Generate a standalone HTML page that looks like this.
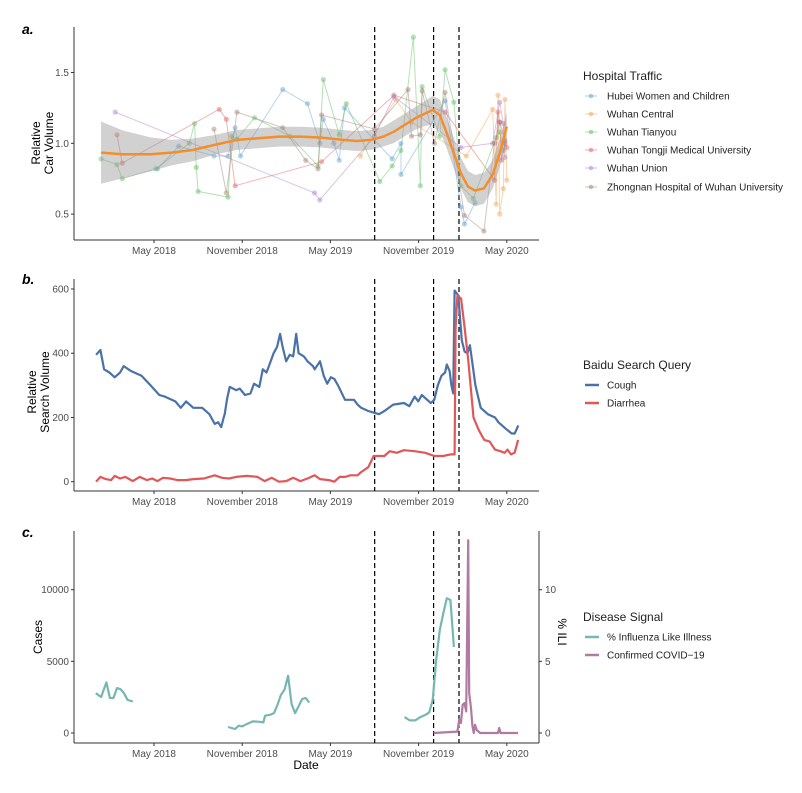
<!DOCTYPE html>
<html><head><meta charset="utf-8"><style>
body{margin:0;background:#fff;}
svg text{font-family:"Liberation Sans",sans-serif;}
</style></head><body>
<svg id="fig" width="802" height="788" xmlns="http://www.w3.org/2000/svg"></svg>
<script>
// ---------- shared ----------
const xTicks=[2018.33,2018.83,2019.33,2019.83,2020.33];
const xTickLabels=["May 2018","November 2018","May 2019","November 2019","May 2020"];
const eventDates=[2019.581,2019.915,2020.059];

// ---------- panel a data ----------
const smoothT=[2018.03,2018.15,2018.31,2018.43,2018.55,2018.67,2018.80,2018.92,2019.04,2019.16,2019.28,2019.40,2019.48,2019.56,2019.63,2019.69,2019.75,2019.81,2019.87,2019.91,2019.95,2019.99,2020.03,2020.07,2020.11,2020.15,2020.20,2020.25,2020.29,2020.33];
const smoothV=[0.934,0.922,0.922,0.934,0.953,0.988,1.024,1.035,1.047,1.047,1.040,1.024,1.016,1.024,1.047,1.082,1.129,1.176,1.212,1.235,1.2,1.071,0.929,0.788,0.694,0.666,0.682,0.78,0.93,1.118];
const smoothSE=[0.22,0.17,0.12,0.09,0.08,0.07,0.07,0.07,0.07,0.07,0.07,0.07,0.07,0.07,0.07,0.08,0.08,0.08,0.09,0.1,0.11,0.11,0.11,0.11,0.11,0.11,0.11,0.1,0.1,0.1];
const hospNames=["Hubei Women and Children","Wuhan Central","Wuhan Tianyou","Wuhan Tongji Medical University","Wuhan Union","Zhongnan Hospital of Wuhan University"];
const hospColors=["#5b9fd4","#f5a04a","#5dbb5d","#e05a5a","#a77fcf","#a57c6e"];
const hubeiT=[2018.35,2018.47,2018.67,2018.75,2018.79,2018.82,2019.06,2019.20,2019.27,2019.29,2019.35,2019.38,2019.41,2019.68,2019.73,2019.73,2019.98,2020.07,2020.09,2020.15];
const hubeiV=[0.82,0.98,0.91,0.91,1.11,0.91,1.38,1.28,1.0,1.17,1.0,0.88,1.25,0.89,1.0,0.78,1.3,0.55,0.43,0.58];
const centralT=[2019.50,2019.70,2019.79,2020.10,2020.25,2020.27,2020.28,2020.29,2020.31,2020.32,2020.33];
const centralV=[0.91,1.31,1.15,0.91,1.24,0.57,1.34,0.5,0.68,1.31,0.74];
const tianyouT=[2018.03,2018.12,2018.15,2018.34,2018.53,2018.56,2018.57,2018.58,2018.75,2018.77,2018.80,2018.90,2019.10,2019.26,2019.29,2019.38,2019.42,2019.61,2019.68,2019.73,2019.80,2019.84,2019.85,2019.95,2019.98,2020.03,2020.07,2020.14,2020.27,2020.29,2020.31];
const tianyouV=[0.89,0.85,0.75,0.82,1.0,1.14,0.83,0.66,0.62,1.05,1.03,1.18,1.05,0.84,1.45,1.06,1.28,0.73,0.84,0.95,1.75,0.7,1.4,1.05,1.52,1.29,0.7,0.61,1.04,1.08,0.95];
const tongjiT=[2018.12,2018.15,2018.70,2018.74,2018.79,2019.28,2019.69,2019.98,2020.26,2020.28,2020.29,2020.30,2020.32,2020.33];
const tongjiV=[1.06,0.86,1.24,1.17,0.7,0.87,1.34,1.22,0.74,1.22,1.15,0.88,1.0,0.97];
const unionT=[2018.11,2019.24,2019.27,2019.58,2019.69,2020.07,2020.25,2020.29,2020.31,2020.32];
const unionV=[1.22,0.65,0.6,1.05,1.33,0.97,1.0,1.29,1.14,0.9];
const zhongnanT=[2018.67,2018.74,2018.80,2019.06,2019.19,2019.26,2019.28,2019.58,2019.77,2019.79,2019.84,2019.85,2019.92,2019.98,2020.09,2020.20,2020.26,2020.29,2020.32];
const zhongnanV=[1.1,0.65,1.22,1.11,0.88,0.82,1.2,1.1,1.38,1.05,1.06,1.37,1.0,1.36,0.49,0.38,1.0,1.15,1.02];
const aTicks=[0.5,1.0,1.5];

// ---------- panel b data ----------
const coughT=[2018.002,2018.026,2018.047,2018.077,2018.107,2018.138,2018.158,2018.198,2018.259,2018.310,2018.360,2018.391,2018.451,2018.482,2018.512,2018.553,2018.603,2018.644,2018.674,2018.694,2018.711,2018.725,2018.731,2018.745,2018.759,2018.796,2018.816,2018.846,2018.877,2018.897,2018.927,2018.947,2018.968,2018.988,2019.008,2019.028,2019.045,2019.059,2019.079,2019.099,2019.119,2019.136,2019.150,2019.180,2019.200,2019.231,2019.241,2019.271,2019.292,2019.312,2019.332,2019.352,2019.373,2019.413,2019.464,2019.484,2019.504,2019.545,2019.575,2019.605,2019.636,2019.686,2019.747,2019.777,2019.808,2019.828,2019.848,2019.879,2019.899,2019.919,2019.939,2019.960,2019.980,2019.990,2020.006,2020.016,2020.026,2020.034,2020.055,2020.075,2020.091,2020.107,2020.121,2020.132,2020.152,2020.182,2020.223,2020.263,2020.283,2020.324,2020.358,2020.375,2020.395];
const coughV=[395,410,350,340,325,340,360,345,330,300,270,265,250,230,250,230,230,210,180,185,170,200,210,260,295,285,290,270,275,305,295,350,340,370,400,420,460,420,375,395,390,460,400,390,375,360,350,375,330,305,325,320,300,255,255,240,230,220,215,210,220,240,245,235,265,250,270,255,245,255,300,330,340,365,345,300,275,595,580,440,405,400,425,380,300,230,210,200,185,165,150,150,175];
const diarT=[2018.002,2018.026,2018.057,2018.087,2018.107,2018.138,2018.168,2018.209,2018.249,2018.290,2018.320,2018.350,2018.381,2018.421,2018.462,2018.512,2018.553,2018.613,2018.674,2018.715,2018.755,2018.796,2018.856,2018.917,2018.957,2018.998,2019.038,2019.079,2019.119,2019.160,2019.200,2019.241,2019.271,2019.322,2019.352,2019.382,2019.413,2019.443,2019.484,2019.504,2019.545,2019.575,2019.605,2019.636,2019.666,2019.706,2019.747,2019.808,2019.868,2019.919,2019.969,2020.010,2020.034,2020.040,2020.050,2020.071,2020.091,2020.111,2020.141,2020.172,2020.202,2020.233,2020.263,2020.293,2020.318,2020.334,2020.354,2020.374,2020.394];
const diarV=[0,15,8,5,18,10,15,2,15,5,10,2,12,10,5,5,8,10,20,12,10,15,18,15,2,12,0,2,12,2,10,20,8,5,0,15,15,20,20,30,45,80,80,80,95,90,98,95,90,80,80,85,85,480,580,570,480,380,200,160,130,125,100,95,90,100,85,90,130];
const bTicks=[0,200,400,600];

// ---------- panel c data ----------
const ili1T=[2018.00,2018.03,2018.06,2018.08,2018.10,2018.12,2018.14,2018.16,2018.18,2018.21];
const ili1V=[2.78,2.51,3.53,2.44,2.44,3.13,3.06,2.78,2.32,2.20];
const ili2T=[2018.75,2018.79,2018.81,2018.83,2018.86,2018.89,2018.92,2018.95,2018.96,2018.99,2019.01,2019.03,2019.05,2019.07,2019.09,2019.11,2019.13,2019.15,2019.17,2019.19,2019.21];
const ili2V=[0.42,0.28,0.51,0.46,0.65,0.81,0.79,0.74,1.21,1.28,1.39,1.97,2.67,3.02,3.99,2.02,1.39,1.86,2.37,2.44,2.13];
const ili3T=[2019.75,2019.78,2019.81,2019.84,2019.87,2019.89,2019.91,2019.93,2019.95,2019.97,2019.99,2020.01,2020.03];
const ili3V=[1.11,0.88,0.88,1.11,1.28,1.44,2.32,5.10,7.19,8.35,9.40,9.28,6.0];
const covidT=[2019.915,2020.05,2020.06,2020.07,2020.08,2020.09,2020.10,2020.111,2020.117,2020.127,2020.135,2020.143,2020.15,2020.16,2020.18,2020.28,2020.287,2020.295,2020.394];
const covidV=[0,100,928,700,1972,2088,1508,13456,2784,1740,500,0,580,200,0,0,350,0,0];
const cTicks=[0,5000,10000];
const iliTicks=[0,5,10];

// ---------- drawing ----------
const NS="http://www.w3.org/2000/svg";
const svg=document.getElementById('fig');
const X0=74,X1=539;
function xs(t){return 154+(t-2018.33)*176.4;}
function mk(tag,attrs,parent){const e=document.createElementNS(NS,tag);for(const k in attrs)e.setAttribute(k,attrs[k]);(parent||svg).appendChild(e);return e;}
function txt(s,x,y,attrs){const e=mk('text',Object.assign({x:x,y:y},attrs||{}));e.textContent=s;return e;}
function pathFrom(T,V,ys){return T.map((t,i)=>(i?'L':'M')+xs(t).toFixed(1)+','+ys(V[i]).toFixed(1)).join('');}

function frame(g,top,bottom,yticks,ys,fmt){
  let e=mk('line',{x1:X0,y1:top,x2:X0,y2:bottom,stroke:'#333','stroke-width':1},g);
  
  e=mk('line',{x1:X0,y1:bottom,x2:X1,y2:bottom,stroke:'#333','stroke-width':1},g);
  
  yticks.forEach(v=>{const y=ys(v);
    mk('line',{x1:X0-3,y1:y,x2:X0,y2:y,stroke:'#333'},g);
    const t=txt(fmt(v),X0-5,y+3.5,{'text-anchor':'end','font-size':10,fill:'#4d4d4d'});
    g.appendChild(t);});
  xTicks.forEach((tt,i)=>{const x=xs(tt);
    mk('line',{x1:x,y1:bottom,x2:x,y2:bottom+3,stroke:'#333'},g);
    const t=txt(xTickLabels[i],x,bottom+14,{'text-anchor':'middle','font-size':10,fill:'#4d4d4d'});
    g.appendChild(t);});
  eventDates.forEach(d=>{const l=mk('line',{x1:xs(d),y1:top,x2:xs(d),y2:bottom,stroke:'#000','stroke-width':1.2,'stroke-dasharray':'5,3'},g);
    });
}

// ===== Panel a =====
const ga=mk('g',{});
const ya=v=>143.3-(v-1)*141.6;
frame(ga,27,240,aTicks,ya,v=>v.toFixed(1));
const hospT=[hubeiT,centralT,tianyouT,tongjiT,unionT,zhongnanT];
const hospV=[hubeiV,centralV,tianyouV,tongjiV,unionV,zhongnanV];
hospT.forEach((T,k)=>{
  const p=mk('path',{d:pathFrom(T,hospV[k],ya),fill:'none',stroke:hospColors[k],'stroke-opacity':0.45,'stroke-width':1},ga);
  
  T.forEach((t,i)=>{const c=mk('circle',{cx:xs(t),cy:ya(hospV[k][i]),r:2.6,fill:hospColors[k],'fill-opacity':0.45},ga);
    });
});
let rib='';smoothT.forEach((t,i)=>{rib+=(i?'L':'M')+xs(t)+','+ya(smoothV[i]+smoothSE[i]);});
for(let i=smoothT.length-1;i>=0;i--)rib+='L'+xs(smoothT[i])+','+ya(smoothV[i]-smoothSE[i]);
let rb=mk('path',{d:rib+'Z',fill:'#999','fill-opacity':0.45},ga);

let sm=mk('path',{d:pathFrom(smoothT,smoothV,ya),fill:'none',stroke:'#f28e2b','stroke-width':2.5},ga);


// ===== Panel b =====
const gb=mk('g',{});
const yb=v=>481.7-v*0.3212;
frame(gb,279,491,bTicks,yb,v=>String(v));
let pc=mk('path',{d:pathFrom(coughT,coughV,yb),fill:'none',stroke:'#4a72a8','stroke-width':2.2,'stroke-linejoin':'round'},gb);

let pd=mk('path',{d:pathFrom(diarT,diarV,yb),fill:'none',stroke:'#e15759','stroke-width':2.2,'stroke-linejoin':'round'},gb);


// ===== Panel c =====
const gc=mk('g',{});
const yc=v=>733-v*0.01433;
const yi=v=>733-v*14.33;
frame(gc,531,743,cTicks,yc,v=>String(v));
let ra=mk('line',{x1:X1,y1:531,x2:X1,y2:743,stroke:'#333'},gc);

iliTicks.forEach(v=>{mk('line',{x1:X1,y1:yi(v),x2:X1+3,y2:yi(v),stroke:'#333'},gc);
  const t=txt(String(v),X1+6,yi(v)+3.5,{'font-size':10,fill:'#4d4d4d'});
  gc.appendChild(t);});
[[ili1T,ili1V],[ili2T,ili2V],[ili3T,ili3V]].forEach(s=>{
  const p=mk('path',{d:pathFrom(s[0],s[1],yi),fill:'none',stroke:'#76b7b2','stroke-width':2.2,'stroke-linejoin':'round'},gc);
  });
let pv=mk('path',{d:pathFrom(covidT,covidV,yc),fill:'none',stroke:'#b07aa1','stroke-width':2.2,'stroke-linejoin':'round'},gc);

</script>
<svg width="802" height="788" style="position:absolute;left:0;top:0" xmlns="http://www.w3.org/2000/svg">
  <text x="22" y="34" font-size="14" font-weight="bold" font-style="italic">a.</text>
  <text x="22" y="284" font-size="14" font-weight="bold" font-style="italic">b.</text>
  <text x="22" y="537" font-size="14" font-weight="bold" font-style="italic">c.</text>
  <g transform="translate(40,143) rotate(-90)" font-size="12" text-anchor="middle">
    <text x="0" y="0">Relative</text><text x="0" y="13">Car Volume</text></g>
  <g transform="translate(36,392) rotate(-90)" font-size="12" text-anchor="middle">
    <text x="0" y="0">Relative</text><text x="0" y="13">Search Volume</text></g>
  <text transform="translate(42,637) rotate(-90)" font-size="12" text-anchor="middle">Cases</text>
  <text transform="translate(558,632) rotate(90)" font-size="12" text-anchor="middle">% ILI</text>
  <text x="306" y="769" font-size="12" text-anchor="middle">Date</text>

  <g font-size="10" fill="#222">
    <text x="583" y="80" font-size="12">Hospital Traffic</text>
    <g><line x1="585" y1="96" x2="597" y2="96" stroke="#5b9fd4" stroke-opacity="0.5"/><circle cx="591" cy="96" r="2.3" fill="#5b9fd4" fill-opacity="0.5"/><text x="607" y="99.5">Hubei Women and Children</text></g>
    <g><line x1="585" y1="114" x2="597" y2="114" stroke="#f5a04a" stroke-opacity="0.5"/><circle cx="591" cy="114" r="2.3" fill="#f5a04a" fill-opacity="0.5"/><text x="607" y="117.5">Wuhan Central</text></g>
    <g><line x1="585" y1="132" x2="597" y2="132" stroke="#5dbb5d" stroke-opacity="0.5"/><circle cx="591" cy="132" r="2.3" fill="#5dbb5d" fill-opacity="0.5"/><text x="607" y="135.5">Wuhan Tianyou</text></g>
    <g><line x1="585" y1="150" x2="597" y2="150" stroke="#e05a5a" stroke-opacity="0.5"/><circle cx="591" cy="150" r="2.3" fill="#e05a5a" fill-opacity="0.5"/><text x="607" y="153.5">Wuhan Tongji Medical University</text></g>
    <g><line x1="585" y1="168" x2="597" y2="168" stroke="#a77fcf" stroke-opacity="0.5"/><circle cx="591" cy="168" r="2.3" fill="#a77fcf" fill-opacity="0.5"/><text x="607" y="171.5">Wuhan Union</text></g>
    <g><line x1="585" y1="187" x2="597" y2="187" stroke="#a57c6e" stroke-opacity="0.5"/><circle cx="591" cy="187" r="2.3" fill="#a57c6e" fill-opacity="0.5"/><text x="607" y="190.5">Zhongnan Hospital of Wuhan University</text></g>
  </g>
  <g font-size="10" fill="#222">
    <text x="583" y="369" font-size="12">Baidu Search Query</text>
    <g><line x1="585" y1="385" x2="599" y2="385" stroke="#4a72a8" stroke-width="2.5"/><text x="607" y="388.5">Cough</text></g>
    <g><line x1="585" y1="403" x2="599" y2="403" stroke="#e15759" stroke-width="2.5"/><text x="607" y="406.5">Diarrhea</text></g>
  </g>
  <g font-size="10" fill="#222">
    <text x="583" y="621" font-size="12">Disease Signal</text>
    <g><line x1="585" y1="637" x2="599" y2="637" stroke="#76b7b2" stroke-width="2.5"/><text x="607" y="640.5">% Influenza Like Illness</text></g>
    <g><line x1="585" y1="655" x2="599" y2="655" stroke="#b07aa1" stroke-width="2.5"/><text x="607" y="658.5">Confirmed COVID−19</text></g>
  </g>
</svg>
</body></html>
